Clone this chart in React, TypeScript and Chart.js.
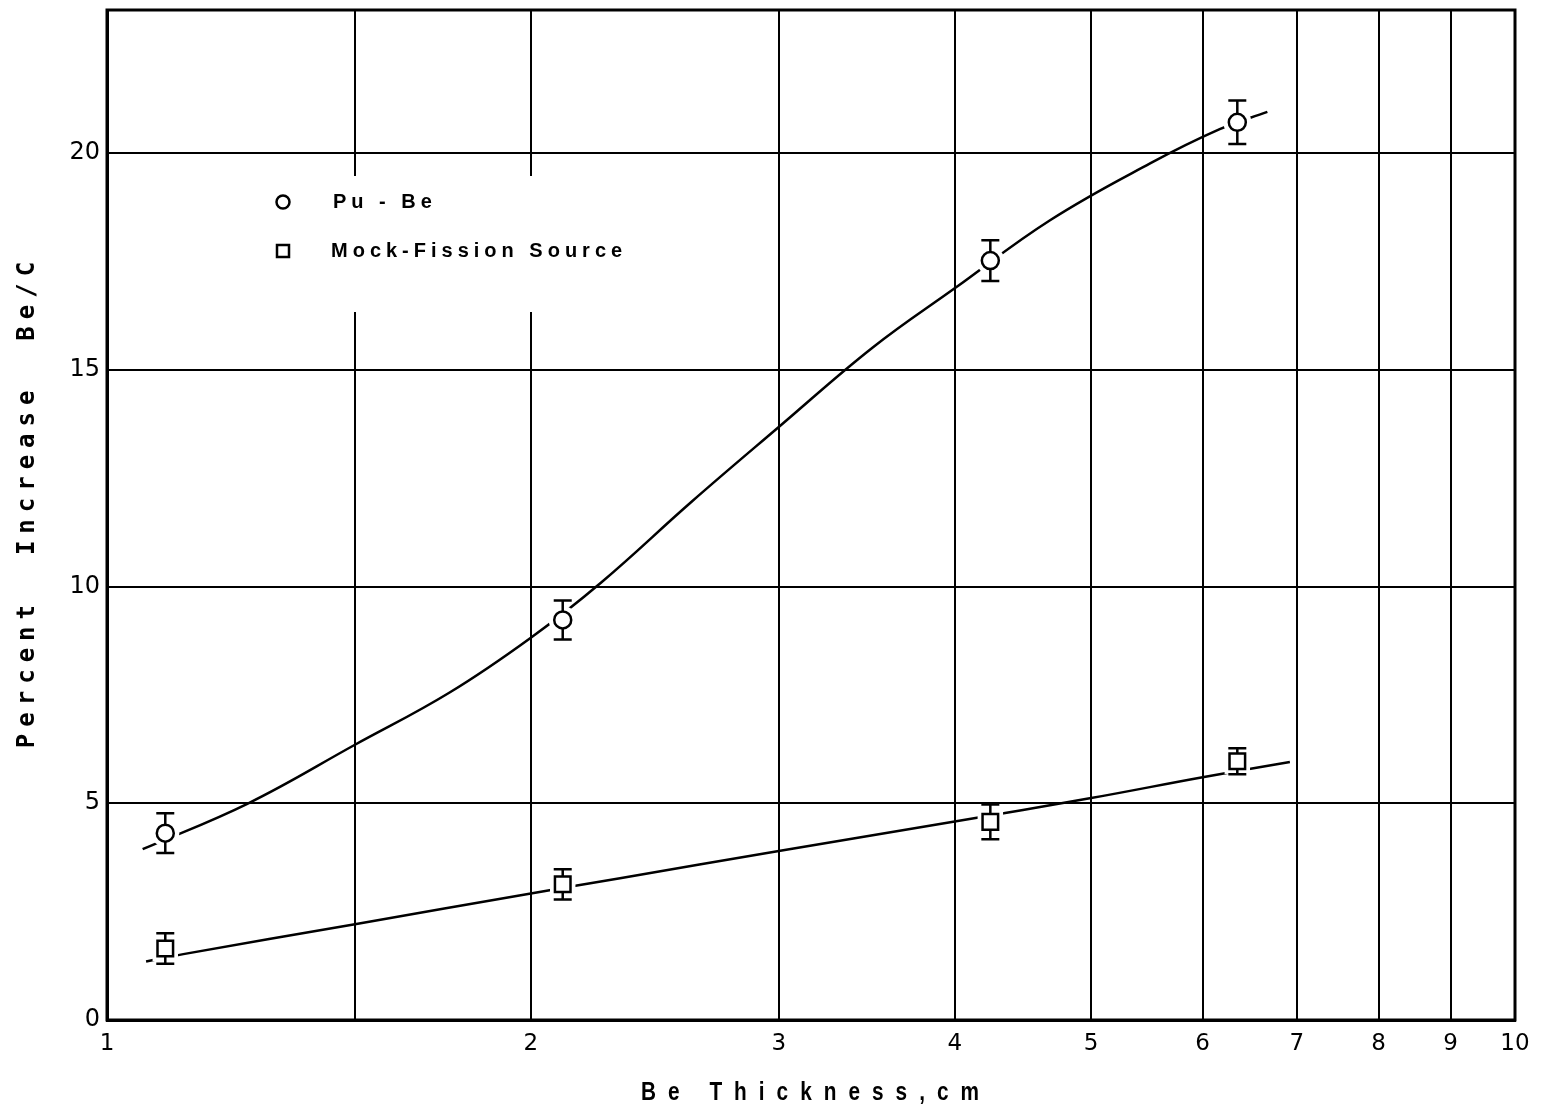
import React, { useEffect, useRef } from "react";
import { Chart, registerables } from "chart.js";

Chart.register(...registerables);

const W = 1541;
const H = 1112;

// ---- data ----
const thicknessCm = [1.1, 2.107, 4.24, 6.35];
const puBeValues = [4.31, 9.23, 17.52, 20.71];
const puBeErrors = [0.46, 0.45, 0.47, 0.5];
const mockValues = [1.65, 3.13, 4.57, 5.97];
const mockErrors = [0.35, 0.35, 0.4, 0.3];

const puCurveX = [1.06, 1.26, 1.5, 1.75, 2.0, 2.245, 2.6, 3.0, 3.5, 4.0, 4.675, 5.506, 6.17, 6.67];
const puCurveY = [3.94, 5.0, 6.35, 7.55, 8.82, 10.1, 11.95, 13.68, 15.52, 16.88, 18.45, 19.76, 20.55, 20.95];
const mockCurveX = [1.066, 1.133, 1.5, 2.0, 2.314, 3.0, 4.0, 5.0, 6.0, 6.92];
const mockCurveY = [1.35, 1.52, 2.21, 2.92, 3.27, 3.9, 4.58, 5.12, 5.6, 5.95];

const xTickValues = [1, 1.5, 2, 3, 4, 5, 6, 7, 8, 9, 10];
const xTickLabels = ["1", "", "2", "3", "4", "5", "6", "7", "8", "9", "10"];
const yTickValues = [0, 5, 10, 15, 20];
const yTickLabels = ["0", "5", "10", "15", "20"];
const xMin = 1;
const xMax = 10;
const yMin = 0;
const yMax = 23.3;

const seriesLabels = ["Pu - Be", "Mock-Fission Source"];
const xTitle = "Be Thickness,cm";
const yTitle = "Percent  Increase  Be/C";

const pts = (xs: number[], ys: number[]) => xs.map((x, i) => ({ x, y: ys[i] }));

function spacedText(
  ctx: CanvasRenderingContext2D,
  text: string,
  cx: number,
  cy: number,
  font: string,
  ls: number,
  sx: number,
  rotate: number
) {
  ctx.save();
  ctx.translate(cx, cy);
  ctx.rotate(rotate);
  ctx.scale(sx, 1);
  ctx.font = font;
  (ctx as any).letterSpacing = ls + "px";
  ctx.textBaseline = "middle";
  ctx.textAlign = "left";
  const w = ctx.measureText(text).width - ls;
  ctx.fillStyle = "#000";
  ctx.fillText(text, -w / 2, 0);
  ctx.restore();
}

const framePlugin = {
  id: "frame",
  beforeDatasetsDraw(chart: any) {
    const { ctx, chartArea: a } = chart;
    ctx.save();
    ctx.strokeStyle = "#000";
    ctx.lineWidth = 3;
    ctx.strokeRect(a.left, a.top, a.right - a.left, a.bottom - a.top);
    ctx.restore();
  },
};

const legendPlugin = {
  id: "inlineLegend",
  beforeDatasetsDraw(chart: any) {
    const { ctx, chartArea: a } = chart;
    ctx.save();
    ctx.fillStyle = "#fff";
    ctx.fillRect(a.left + 30, a.top + 166, 560, 136);
    ctx.strokeStyle = "#000";
    ctx.lineWidth = 2.5;
    const mx = a.left + 176;
    const y1 = a.top + 192;
    const y2 = a.top + 241;
    ctx.beginPath();
    ctx.arc(mx, y1, 6.5, 0, Math.PI * 2);
    ctx.stroke();
    ctx.strokeRect(mx - 6, y2 - 6, 12, 12);
    ctx.fillStyle = "#000";
    ctx.font = "bold 20px 'Liberation Sans'";
    (ctx as any).letterSpacing = "5px";
    ctx.textBaseline = "middle";
    ctx.textAlign = "left";
    ctx.fillText(chart.data.datasets[0].label, a.left + 226, y1);
    ctx.fillText(chart.data.datasets[1].label, a.left + 224, y2);
    ctx.restore();
  },
};

const errorBarPlugin = {
  id: "errorBars",
  afterDatasetDraw(chart: any, args: any) {
    if (args.index !== 2) return;
    const { ctx } = chart;
    const xs = chart.scales.x;
    const ys = chart.scales.y;
    const draw = (vals: number[], errs: number[]) => {
      thicknessCm.forEach((t, i) => {
        const px = xs.getPixelForValue(t);
        const top = ys.getPixelForValue(vals[i] + errs[i]);
        const bot = ys.getPixelForValue(vals[i] - errs[i]);
        ctx.beginPath();
        ctx.moveTo(px, top);
        ctx.lineTo(px, bot);
        ctx.moveTo(px - 9, top);
        ctx.lineTo(px + 9, top);
        ctx.moveTo(px - 9, bot);
        ctx.lineTo(px + 9, bot);
        ctx.stroke();
      });
    };
    ctx.save();
    ctx.strokeStyle = "#000";
    ctx.lineWidth = 2.5;
    draw(puBeValues, puBeErrors);
    draw(mockValues, mockErrors);
    ctx.restore();
  },
};

const titlePlugin = {
  id: "axisTitles",
  afterDraw(chart: any) {
    const { ctx } = chart;
    spacedText(ctx, xTitle, 810, 1093, "bold 26px 'Liberation Sans'", 15, 0.8, 0);
    spacedText(ctx, yTitle, 28, 505, "bold 24px 'DejaVu Sans Mono'", 7, 1, -Math.PI / 2);
  },
};

export default function App() {
  const ref = useRef<HTMLCanvasElement>(null);
  useEffect(() => {
    const canvas = ref.current!;
    const curve = (data: any[]) => ({
      data,
      showLine: true,
      borderColor: "#000",
      borderWidth: 2.5,
      pointRadius: 0,
      tension: 0.4,
      order: 2,
    });
    const chart = new Chart(canvas, {
      type: "scatter",
      data: {
        datasets: [
          {
            label: seriesLabels[0],
            data: pts(thicknessCm, puBeValues),
            pointStyle: "circle",
            pointRadius: 8.5,
            pointBorderWidth: 2.5,
            pointBorderColor: "#000",
            pointBackgroundColor: "#fff",
            order: 0,
          } as any,
          {
            label: seriesLabels[1],
            data: pts(thicknessCm, mockValues),
            pointStyle: "rect",
            pointRadius: 11,
            pointBorderWidth: 2.5,
            pointBorderColor: "#000",
            pointBackgroundColor: "#fff",
            order: 0,
          },
          {
            label: "halo1",
            data: pts(thicknessCm, puBeValues),
            pointStyle: "circle",
            pointRadius: 14,
            pointBorderWidth: 0,
            pointBackgroundColor: "#fff",
            order: 1,
          },
          {
            label: "halo2",
            data: pts(thicknessCm, mockValues),
            pointStyle: "rect",
            pointRadius: 18,
            pointBorderWidth: 0,
            pointBackgroundColor: "#fff",
            order: 1,
          },
          { label: "curve1", ...curve(pts(puCurveX, puCurveY)) },
          { label: "curve2", ...curve(pts(mockCurveX, mockCurveY)) },
        ] as any,
      },
      options: {
        responsive: false,
        animation: false,
        devicePixelRatio: 1,
        events: [],
        layout: { autoPadding: false, padding: { top: 10, right: 26, left: 0, bottom: 0 } },
        plugins: {
          legend: { display: false },
          tooltip: { enabled: false },
        },
        scales: {
          x: {
            type: "logarithmic",
            min: xMin,
            max: xMax,
            afterBuildTicks: (s: any) => {
              s.ticks = xTickValues.map((v) => ({ value: v }));
            },
            afterFit: (s: any) => {
              s.height = 92;
              s.paddingLeft = 0;
              s.paddingRight = 0;
            },
            ticks: {
              callback: (_v: any, i: number) => xTickLabels[i],
              font: { family: "'DejaVu Sans'", size: 23 },
              color: "#000",
              padding: 10,
              maxRotation: 0,
              autoSkip: false,
            },
            grid: { color: "#000", lineWidth: 2, drawTicks: false },
            border: { display: true, color: "#000", width: 3 },
          },
          y: {
            type: "linear",
            min: yMin,
            max: yMax,
            afterBuildTicks: (s: any) => {
              s.ticks = yTickValues.map((v) => ({ value: v }));
            },
            afterFit: (s: any) => {
              s.width = 107;
              s.paddingTop = 0;
              s.paddingBottom = 0;
            },
            ticks: {
              callback: (_v: any, i: number) => yTickLabels[i],
              font: { family: "'DejaVu Sans'", size: 24 },
              color: "#000",
              padding: 7,
            },
            grid: { color: "#000", lineWidth: 2, drawTicks: false },
            border: { display: true, color: "#000", width: 3 },
          },
        },
      } as any,
      plugins: [framePlugin, legendPlugin, errorBarPlugin, titlePlugin],
    });
    return () => chart.destroy();
  }, []);
  return (
    <div style={{ position: "absolute", left: 0, top: 0, width: W, height: H, background: "#fff" }}>
      <canvas ref={ref} width={W} height={H} style={{ display: "block" }} />
    </div>
  );
}
